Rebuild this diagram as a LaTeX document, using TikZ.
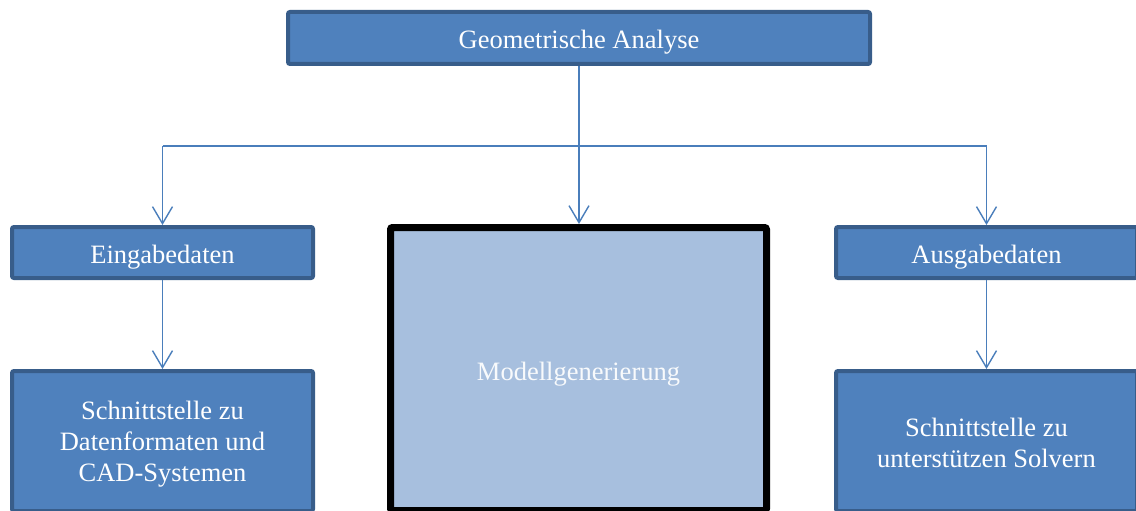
\documentclass[tikz,border=0pt]{standalone}
\usepackage{fontspec}
\setmainfont{Liberation Serif}
\usetikzlibrary{arrows.meta}
\definecolor{boxfill}{HTML}{4F81BD}
\definecolor{boxline}{HTML}{385D8A}
\definecolor{lightfill}{HTML}{A7BFDE}
\definecolor{connblue}{HTML}{4A7EBB}
% stacked lines, lowered by #1 without changing the reported size
\newcommand{\boxlines}[2]{\raisebox{-#1}[\height][\depth]{\begin{tabular}{@{}c@{}}#2\end{tabular}}}
\tikzset{
  bluebox/.style={draw=boxline, fill=boxfill, line width=4pt, rounded corners=2pt,
    inner sep=0pt, text=white, align=center,
    font=\fontsize{26.5}{31}\selectfont},
  oneline/.style={text height=24pt, text depth=2pt},
  modbox/.style={draw=black, fill=lightfill, line width=7pt, rounded corners=2pt,
    inner sep=0pt, text=white!92!lightfill, align=center,
    font=\fontsize{26.5}{31}\selectfont},
  conn/.style={draw=connblue, line width=1.4pt},
  arr/.style={conn, -{Straight Barb[length=17pt, width=20pt, line width=1.4pt]}}
}
\begin{document}
\begin{tikzpicture}[x=1pt, y=-1pt]
\useasboundingbox (0,0) rectangle (1136,511);
\clip (0,0) rectangle (1136,511);

% boxes
\node[bluebox, oneline, minimum width=582pt, minimum height=52pt] (geo) at (579,38) {Geometrische Analyse};
\node[bluebox, oneline, minimum width=301pt, minimum height=51pt] (ein) at (162.5,252.5) {Eingabedaten};
\node[bluebox, oneline, minimum width=301pt, minimum height=51pt] (aus) at (986.5,252.5) {Ausgabedaten};
\node[modbox, oneline, minimum width=376pt, minimum height=283pt] (mod) at (578.5,369) {Modellgenerierung};
\node[bluebox, minimum width=301pt, minimum height=140pt] (cad) at (162.5,441)
  {\boxlines{3pt}{Schnittstelle zu\\Datenformaten und\\CAD-Systemen}};
\node[bluebox, minimum width=301pt, minimum height=140pt] (sol) at (986.5,441)
  {\boxlines{4.5pt}{Schnittstelle zu\\unterstützen Solvern}};

% branching connectors
\coordinate (jl) at (ein.north |- 0,146);
\coordinate (jr) at (aus.north |- 0,146);
\draw[arr] (geo.south) -- (geo.south |- mod.north);
\draw[conn] (jl) -- (jr);
\draw[arr] (jl) -- (ein.north);
\draw[arr] (jr) -- (aus.north);
\draw[arr] (ein.south) -- (cad.north);
\draw[arr] (aus.south) -- (sol.north);
\end{tikzpicture}
\end{document}
